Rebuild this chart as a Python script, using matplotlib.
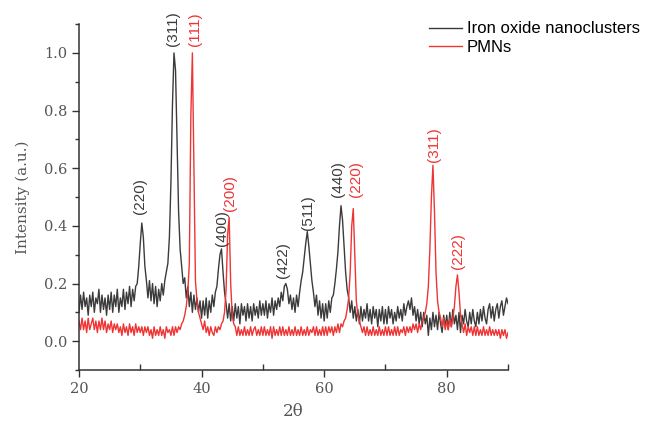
import numpy as np
import matplotlib
matplotlib.use("Agg")
import matplotlib.pyplot as plt
from matplotlib.ticker import MultipleLocator

# 2-theta sampling grid (degrees)
two_theta = np.linspace(20, 90, 281)

# Iron oxide nanoclusters intensity (normalised)
iron_oxide = [
    0.10, 0.16, 0.11, 0.17, 0.12, 0.15, 0.09, 0.16, 0.12, 0.17, 0.10, 0.15, 0.13, 0.18, 0.10, 0.16, 0.11, 0.15, 0.09, 0.16,
    0.11, 0.17, 0.10, 0.16, 0.12, 0.18, 0.10, 0.15, 0.12, 0.18, 0.11, 0.17, 0.13, 0.19, 0.12, 0.18, 0.14, 0.19, 0.20, 0.26,
    0.34, 0.41, 0.36, 0.26, 0.21, 0.15, 0.21, 0.14, 0.20, 0.13, 0.19, 0.12, 0.18, 0.14, 0.20, 0.16, 0.21, 0.24, 0.27, 0.36,
    0.55, 0.82, 1.00, 0.94, 0.70, 0.45, 0.32, 0.26, 0.20, 0.22, 0.15, 0.19, 0.12, 0.17, 0.10, 0.16, 0.11, 0.15, 0.10, 0.14,
    0.08, 0.14, 0.09, 0.15, 0.08, 0.14, 0.10, 0.16, 0.12, 0.17, 0.19, 0.25, 0.30, 0.32, 0.24, 0.17, 0.13, 0.08, 0.13, 0.07,
    0.12, 0.07, 0.13, 0.08, 0.12, 0.06, 0.13, 0.09, 0.12, 0.07, 0.13, 0.08, 0.12, 0.07, 0.13, 0.09, 0.12, 0.08, 0.14, 0.09,
    0.13, 0.09, 0.14, 0.08, 0.13, 0.10, 0.15, 0.09, 0.14, 0.11, 0.15, 0.12, 0.17, 0.14, 0.19, 0.20, 0.18, 0.13, 0.16, 0.11,
    0.15, 0.10, 0.16, 0.12, 0.17, 0.21, 0.24, 0.29, 0.34, 0.38, 0.33, 0.27, 0.21, 0.17, 0.12, 0.16, 0.09, 0.14, 0.08, 0.13,
    0.07, 0.13, 0.08, 0.14, 0.10, 0.15, 0.16, 0.20, 0.25, 0.31, 0.40, 0.47, 0.42, 0.33, 0.24, 0.18, 0.15, 0.10, 0.14, 0.08,
    0.12, 0.07, 0.11, 0.06, 0.12, 0.07, 0.11, 0.08, 0.13, 0.07, 0.11, 0.06, 0.12, 0.08, 0.11, 0.05, 0.11, 0.07, 0.12, 0.06,
    0.11, 0.06, 0.12, 0.08, 0.11, 0.06, 0.10, 0.07, 0.12, 0.08, 0.11, 0.07, 0.13, 0.09, 0.12, 0.14, 0.11, 0.15, 0.09, 0.12,
    0.07, 0.11, 0.06, 0.10, 0.05, 0.10, 0.06, 0.09, 0.02, 0.08, 0.04, 0.10, 0.05, 0.09, 0.04, 0.10, 0.06, 0.03, 0.09, 0.05,
    0.09, 0.04, 0.10, 0.05, 0.11, 0.06, 0.09, 0.04, 0.10, 0.03, 0.09, 0.06, 0.11, 0.07, 0.05, 0.10, 0.06, 0.11, 0.07, 0.05,
    0.10, 0.06, 0.11, 0.07, 0.12, 0.08, 0.06, 0.11, 0.13, 0.08, 0.12, 0.07, 0.11, 0.13, 0.08, 0.12, 0.14, 0.09, 0.12, 0.15,
    0.13,
]

# PMNs intensity (normalised)
pmns = [
    0.07, 0.04, 0.08, 0.04, 0.07, 0.03, 0.08, 0.04, 0.06, 0.08, 0.04, 0.07, 0.03, 0.07, 0.04, 0.08, 0.04, 0.07, 0.03, 0.06,
    0.04, 0.07, 0.03, 0.06, 0.04, 0.06, 0.03, 0.05, 0.02, 0.06, 0.03, 0.05, 0.02, 0.06, 0.03, 0.05, 0.02, 0.06, 0.03, 0.05,
    0.03, 0.05, 0.02, 0.05, 0.03, 0.05, 0.02, 0.04, 0.01, 0.05, 0.02, 0.04, 0.02, 0.05, 0.02, 0.04, 0.01, 0.05, 0.03, 0.04,
    0.02, 0.05, 0.02, 0.05, 0.03, 0.05, 0.04, 0.06, 0.07, 0.09, 0.12, 0.17, 0.27, 0.78, 1.00, 0.60, 0.21, 0.14, 0.10, 0.08,
    0.06, 0.04, 0.07, 0.03, 0.05, 0.02, 0.05, 0.03, 0.02, 0.05, 0.03, 0.05, 0.04, 0.06, 0.07, 0.10, 0.18, 0.37, 0.43, 0.20,
    0.09, 0.06, 0.05, 0.02, 0.05, 0.02, 0.04, 0.02, 0.05, 0.02, 0.04, 0.02, 0.05, 0.02, 0.04, 0.05, 0.02, 0.04, 0.02, 0.05,
    0.02, 0.05, 0.02, 0.04, 0.02, 0.05, 0.01, 0.05, 0.02, 0.04, 0.02, 0.05, 0.02, 0.05, 0.02, 0.04, 0.02, 0.05, 0.02, 0.04,
    0.02, 0.05, 0.02, 0.04, 0.02, 0.05, 0.02, 0.04, 0.02, 0.05, 0.02, 0.04, 0.03, 0.05, 0.02, 0.05, 0.02, 0.04, 0.02, 0.05,
    0.02, 0.05, 0.02, 0.05, 0.03, 0.05, 0.02, 0.05, 0.03, 0.06, 0.03, 0.06, 0.05, 0.07, 0.08, 0.11, 0.15, 0.24, 0.40, 0.46,
    0.30, 0.14, 0.09, 0.07, 0.05, 0.03, 0.05, 0.02, 0.05, 0.02, 0.04, 0.02, 0.05, 0.02, 0.04, 0.02, 0.05, 0.02, 0.04, 0.02,
    0.05, 0.02, 0.05, 0.02, 0.04, 0.02, 0.05, 0.02, 0.05, 0.02, 0.04, 0.03, 0.05, 0.02, 0.05, 0.03, 0.05, 0.03, 0.06, 0.04,
    0.06, 0.03, 0.06, 0.04, 0.07, 0.08, 0.10, 0.13, 0.19, 0.32, 0.50, 0.61, 0.45, 0.24, 0.14, 0.10, 0.08, 0.05, 0.08, 0.04,
    0.07, 0.04, 0.08, 0.05, 0.08, 0.12, 0.19, 0.23, 0.17, 0.09, 0.06, 0.03, 0.06, 0.02, 0.05, 0.03, 0.05, 0.02, 0.05, 0.02,
    0.05, 0.02, 0.04, 0.02, 0.05, 0.02, 0.04, 0.02, 0.05, 0.02, 0.04, 0.02, 0.04, 0.02, 0.04, 0.01, 0.04, 0.02, 0.04, 0.01,
    0.03,
]

# Miller-index labels: (text, 2theta, intensity at text base)
iron_labels = [("(220)", 30.0, 0.44), ("(311)", 35.4, 1.025), ("(400)", 43.3, 0.33),
               ("(422)", 53.3, 0.22), ("(511)", 57.4, 0.385), ("(440)", 62.3, 0.50)]
pmns_labels = [("(111)", 38.9, 1.025), ("(200)", 44.7, 0.45), ("(220)", 65.2, 0.50),
               ("(311)", 78.0, 0.62), ("(222)", 81.8, 0.25)]

DARK = "#3b3b3b"
RED = "#ef3434"
SERIF = "DejaVu Serif"

fig = plt.figure(figsize=(6.55, 4.23), dpi=100)
ax = fig.add_axes([0.1206, 0.1253, 0.655, 0.8177])

ax.plot(two_theta, iron_oxide, color=DARK, lw=1.0, label="Iron oxide nanoclusters")
ax.plot(two_theta, pmns, color=RED, lw=1.0, label="PMNs")

for txt, x, y in iron_labels:
    ax.text(x, y, txt, rotation=90, ha="center", va="bottom", color=DARK,
            fontsize=11, family="Liberation Sans")
for txt, x, y in pmns_labels:
    ax.text(x, y, txt, rotation=90, ha="center", va="bottom", color=RED,
            fontsize=11, family="Liberation Sans")

ax.set_xlim(20, 90)
ax.set_ylim(-0.1, 1.1)
ax.xaxis.set_major_locator(MultipleLocator(20))
ax.xaxis.set_minor_locator(MultipleLocator(10))
ax.yaxis.set_major_locator(MultipleLocator(0.2))
ax.yaxis.set_minor_locator(MultipleLocator(0.1))
ax.tick_params(axis="x", which="major", direction="out", length=5, width=1, color="#333333")
ax.tick_params(axis="x", which="minor", direction="in", length=4, width=1, color="#333333")
ax.tick_params(axis="y", which="major", direction="out", length=5, width=1, color="#333333")
ax.tick_params(axis="y", which="minor", direction="out", length=3, width=1, color="#333333")
ax.set_yticks([0.0, 0.2, 0.4, 0.6, 0.8, 1.0])
for lab in ax.get_xticklabels() + ax.get_yticklabels():
    lab.set_family(SERIF)
    lab.set_fontsize(10.5)
    lab.set_color("#555555")

for side in ("top", "right"):
    ax.spines[side].set_visible(False)
for side in ("left", "bottom"):
    ax.spines[side].set_color("#333333")
    ax.spines[side].set_linewidth(1.1)

ax.set_xlabel("2θ", family=SERIF, fontsize=12, color="#555555", labelpad=5)
ax.set_ylabel("Intensity (a.u.)", family=SERIF, fontsize=11, color="#555555", labelpad=10)

fig.legend(loc="upper left", bbox_to_anchor=(0.645, 0.965), frameon=False,
           prop={"family": "Liberation Sans", "size": 12}, handlelength=2.0,
           handletextpad=0.25, labelspacing=0.2, borderaxespad=0)

fig.savefig("out.png", dpi=100)
